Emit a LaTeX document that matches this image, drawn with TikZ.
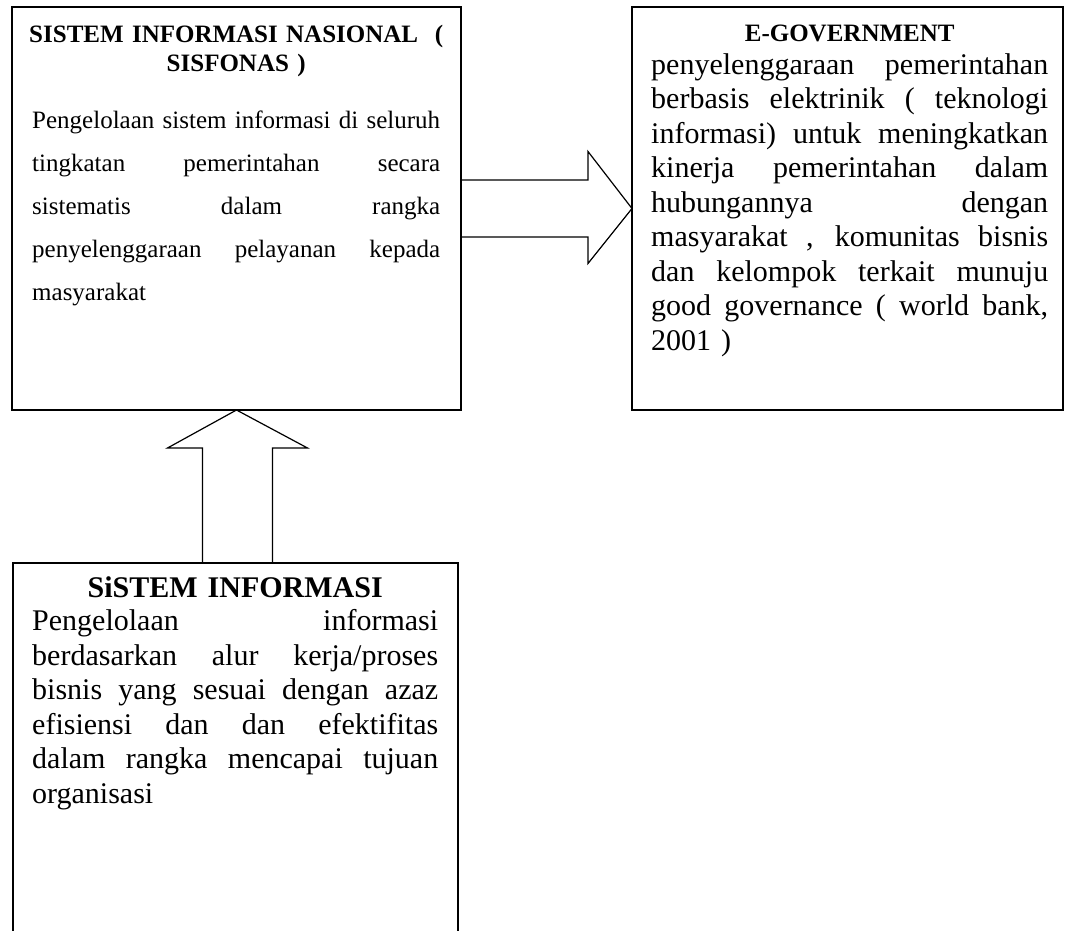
\documentclass[tikz,border=0pt]{standalone}
\usepackage{fontspec}
\setmainfont{Liberation Serif}
\usetikzlibrary{calc}
\newcommand\jline[2]{\leavevmode\hbox to #1{\spaceskip=0.25em plus 1fil\relax #2}}
\begin{document}
\begin{tikzpicture}[x=1pt,y=-1pt,
  box/.style={draw, line width=1.5pt, rectangle, inner sep=0pt, outer sep=0pt, anchor=north west},
  txt/.style={anchor=north west, inner sep=0pt, align=left},
  blk/.style={draw, line width=1.2pt, line join=miter}]
\useasboundingbox (0,0) rectangle (1068,930);
\clip (0,0) rectangle (1068,930);
\fill[white] (0,0) rectangle (1068,930);
% boxes
\node[box, minimum width=449pt, minimum height=403pt] (sis) at (12,7) {};
\node[box, minimum width=431pt, minimum height=403pt] (egov) at (632,7) {};
\node[box, minimum width=445pt, minimum height=450pt] (si) at (13,563) {};
% texts
\node[txt, text width=408pt, font=\fontsize{25}{43}\selectfont] (sist) at (32,22) {%
\makebox[408pt][c]{\rule{0pt}{20pt}\bfseries SISTEM INFORMASI NASIONAL\ \ (}\\[-14pt]
\makebox[408pt][c]{\bfseries SISFONAS )}\\[14pt]
\jline{408pt}{Pengelolaan sistem informasi di seluruh}\\
\jline{408pt}{tingkatan pemerintahan secara}\\
\jline{408pt}{sistematis dalam rangka}\\
\jline{408pt}{penyelenggaraan pelayanan kepada}\\
masyarakat};
\node[txt, text width=397pt, font=\fontsize{30}{34.5}\selectfont] (egovt) at (651,21) {%
\makebox[397pt][c]{\rule{0pt}{20pt}\fontsize{25}{30}\selectfont\bfseries E-GOVERNMENT}\\[-1.5pt]
\jline{397pt}{penyelenggaraan pemerintahan}\\
\jline{397pt}{berbasis elektrinik ( teknologi}\\
\jline{397pt}{informasi) untuk meningkatkan}\\
\jline{397pt}{kinerja pemerintahan dalam}\\
\jline{397pt}{hubungannya dengan}\\
\jline{397pt}{masyarakat , komunitas bisnis}\\
\jline{397pt}{dan kelompok terkait munuju}\\
\jline{397pt}{good governance ( world bank,}\\
2001 )};
\node[txt, text width=406pt, font=\fontsize{30}{34.5}\selectfont] (sit) at (32,572) {%
\makebox[406pt][c]{\rule{0pt}{25pt}\bfseries SiSTEM INFORMASI}\\[-1pt]
\jline{406pt}{Pengelolaan informasi}\\
\jline{406pt}{berdasarkan alur kerja/proses}\\
\jline{406pt}{bisnis yang sesuai dengan azaz}\\
\jline{406pt}{efisiensi dan dan efektifitas}\\
\jline{406pt}{dalam rangka mencapai tujuan}\\
organisasi};
% block arrow right
\draw[blk] ($(sis.east)+(0,-28.5)$) -- ($(sis.east)+(127,-28.5)$) -- ($(sis.east)+(127,-57)$)
  -- (egov.west) -- ($(sis.east)+(127,55)$) -- ($(sis.east)+(127,28.5)$) -- ($(sis.east)+(0,28.5)$);
% block arrow up
\draw[blk] ($(si.north)+(-33,0)$) -- ($(si.north)+(-33,-115)$) -- ($(si.north)+(-68,-115)$)
  -- (sis.south) -- ($(si.north)+(72,-115)$) -- ($(si.north)+(37,-115)$) -- ($(si.north)+(37,0)$);
\end{tikzpicture}
\end{document}
